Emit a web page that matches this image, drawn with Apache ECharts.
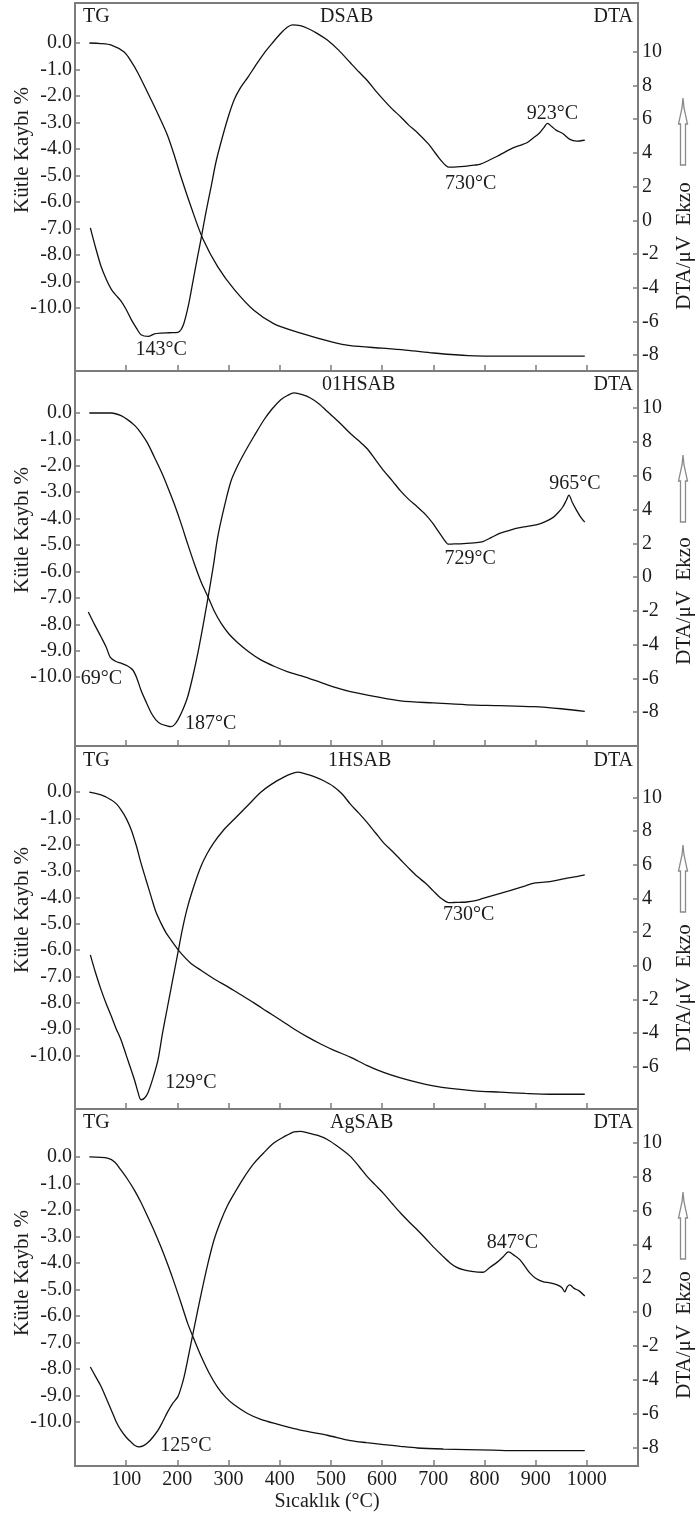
<!DOCTYPE html>
<html>
<head>
<meta charset="utf-8">
<title>TG / DTA</title>
<script src="https://cdn.jsdelivr.net/npm/echarts@6/dist/echarts.min.js"></script>
<style>
  html, body { margin: 0; padding: 0; background: #fff; }
  #chart { width: 697px; height: 1519px; }
</style>
</head>
<body>
<div id="chart"></div>
<script>
// ---- data: temperature (°C) vs. mass loss (%) and DTA signal (µV) ----
const dsabTG = [[28,0.0],[50,-0.02],[71,-0.08],[96,-0.34],[110,-0.7],[123,-1.13],[149,-2.15],[165,-2.8],[181,-3.5],[195,-4.3],[207,-5.05],[227,-6.2],[250,-7.4],[279,-8.45],[311,-9.3],[350,-10.1],[389,-10.6],[441,-10.95],[505,-11.3],[538,-11.42],[600,-11.52],[651,-11.6],[700,-11.7],[768,-11.8],[850,-11.82],[920,-11.82],[996,-11.82]];
const dsabDTA = [[30,-0.45],[40,-1.6],[51,-2.75],[61,-3.5],[71,-4.1],[80,-4.45],[90,-4.8],[100,-5.3],[110,-5.9],[120,-6.4],[129,-6.8],[143,-6.9],[155,-6.75],[168,-6.7],[185,-6.68],[201,-6.65],[207,-6.5],[213,-6.1],[222,-5.0],[230,-3.7],[238,-2.4],[246,-1.15],[256,0.5],[266,2.0],[275,3.4],[285,4.6],[298,6.0],[311,7.15],[324,7.9],[338,8.5],[353,9.2],[369,9.9],[385,10.5],[402,11.1],[414,11.45],[425,11.6],[440,11.55],[454,11.4],[473,11.1],[493,10.7],[515,10.1],[538,9.35],[555,8.8],[571,8.3],[587,7.7],[603,7.15],[620,6.6],[636,6.15],[652,5.65],[669,5.2],[690,4.55],[700,4.15],[710,3.75],[718,3.45],[724,3.27],[730,3.15],[740,3.16],[752,3.18],[765,3.21],[780,3.27],[792,3.33],[808,3.55],[825,3.8],[840,4.05],[856,4.3],[870,4.45],[883,4.6],[896,4.9],[908,5.2],[916,5.5],[923,5.75],[932,5.55],[940,5.35],[953,5.15],[967,4.8],[980,4.7],[996,4.75]];
const dsabPeaks = [143, 730, 923];

const hsab01TG = [[28,0.0],[71,0.0],[90,-0.1],[104,-0.27],[117,-0.48],[129,-0.76],[142,-1.15],[155,-1.67],[168,-2.2],[181,-2.8],[194,-3.45],[207,-4.17],[220,-4.95],[233,-5.7],[246,-6.38],[260,-6.97],[272,-7.5],[285,-7.95],[300,-8.35],[318,-8.7],[340,-9.05],[363,-9.35],[390,-9.6],[416,-9.8],[450,-10.0],[480,-10.2],[510,-10.4],[538,-10.55],[590,-10.75],[636,-10.9],[700,-10.98],[766,-11.05],[830,-11.08],[895,-11.12],[950,-11.2],[996,-11.3]];
const hsab01DTA = [[26,-2.07],[38,-2.8],[51,-3.55],[61,-4.15],[69,-4.75],[80,-5.0],[90,-5.1],[102,-5.25],[113,-5.5],[121,-6.0],[129,-6.7],[139,-7.4],[149,-8.05],[158,-8.45],[168,-8.7],[181,-8.82],[187,-8.85],[194,-8.75],[201,-8.45],[210,-7.9],[220,-7.1],[230,-5.9],[240,-4.5],[250,-2.9],[260,-1.2],[270,0.6],[279,2.4],[292,4.2],[305,5.7],[318,6.6],[330,7.3],[350,8.35],[369,9.3],[385,9.95],[402,10.5],[415,10.75],[428,10.9],[444,10.8],[460,10.6],[477,10.25],[493,9.8],[515,9.2],[538,8.5],[555,8.05],[571,7.6],[587,6.95],[603,6.3],[620,5.7],[636,5.1],[652,4.6],[669,4.15],[685,3.7],[700,3.15],[710,2.7],[718,2.35],[724,2.1],[729,1.95],[740,1.96],[752,1.97],[765,1.99],[780,2.03],[797,2.1],[814,2.35],[831,2.6],[848,2.75],[864,2.9],[884,3.0],[903,3.1],[920,3.3],[935,3.55],[945,3.85],[953,4.15],[960,4.55],[965,4.85],[972,4.4],[980,3.95],[988,3.55],[996,3.25]];
const hsab01Peaks = [69, 187, 729, 965];

const hsab1TG = [[28,0.0],[51,-0.11],[71,-0.3],[81,-0.45],[90,-0.68],[100,-1.0],[110,-1.44],[120,-2.05],[129,-2.7],[139,-3.35],[149,-3.99],[158,-4.55],[168,-4.98],[178,-5.35],[188,-5.63],[198,-5.9],[207,-6.12],[225,-6.48],[246,-6.77],[272,-7.1],[299,-7.4],[324,-7.7],[349,-8.0],[375,-8.33],[402,-8.67],[428,-9.0],[454,-9.3],[480,-9.57],[505,-9.8],[538,-10.07],[570,-10.38],[603,-10.65],[636,-10.86],[669,-11.03],[700,-11.16],[733,-11.26],[780,-11.35],[831,-11.4],[880,-11.45],[928,-11.48],[996,-11.48]];
const hsab1DTA = [[30,0.65],[40,-0.4],[51,-1.43],[61,-2.25],[71,-3.0],[80,-3.7],[90,-4.4],[100,-5.3],[110,-6.2],[117,-6.85],[123,-7.5],[129,-7.95],[136,-7.85],[143,-7.5],[152,-6.7],[162,-5.6],[171,-4.0],[181,-2.4],[191,-0.8],[201,0.77],[210,2.2],[220,3.5],[233,4.8],[246,5.9],[258,6.65],[271,7.3],[290,8.05],[311,8.7],[337,9.5],[363,10.3],[385,10.8],[408,11.2],[422,11.4],[435,11.5],[450,11.4],[466,11.25],[485,11.0],[505,10.65],[522,10.2],[538,9.6],[555,9.05],[571,8.5],[587,7.9],[603,7.3],[620,6.8],[636,6.3],[652,5.8],[669,5.3],[685,4.9],[700,4.45],[710,4.15],[718,3.95],[724,3.83],[730,3.75],[740,3.76],[752,3.77],[765,3.79],[780,3.85],[797,4.0],[814,4.15],[831,4.3],[848,4.45],[864,4.6],[880,4.75],[895,4.9],[912,4.95],[928,5.0],[945,5.1],[961,5.2],[980,5.3],[996,5.4]];
const hsab1Peaks = [129, 730];

const agsabTG = [[28,0.0],[65,-0.05],[78,-0.2],[90,-0.5],[103,-0.85],[116,-1.25],[129,-1.72],[142,-2.25],[155,-2.8],[168,-3.4],[181,-4.05],[194,-4.75],[207,-5.5],[220,-6.27],[233,-6.9],[246,-7.5],[262,-8.15],[279,-8.7],[295,-9.08],[311,-9.35],[337,-9.68],[363,-9.9],[395,-10.08],[428,-10.25],[460,-10.38],[493,-10.5],[538,-10.7],[570,-10.78],[603,-10.85],[636,-10.92],[669,-10.98],[720,-11.02],[766,-11.04],[815,-11.06],[864,-11.08],[930,-11.08],[996,-11.08]];
const agsabDTA = [[30,-3.25],[40,-3.8],[51,-4.4],[61,-5.1],[71,-5.8],[80,-6.45],[90,-7.0],[100,-7.4],[110,-7.7],[118,-7.9],[125,-7.97],[134,-7.9],[143,-7.7],[152,-7.4],[162,-7.0],[171,-6.5],[181,-5.9],[191,-5.4],[201,-5.0],[207,-4.5],[213,-3.85],[223,-2.4],[233,-0.9],[246,1.0],[260,2.9],[272,4.3],[285,5.4],[298,6.3],[311,7.0],[330,7.95],[350,8.8],[370,9.45],[389,10.0],[408,10.35],[428,10.65],[440,10.68],[454,10.6],[473,10.45],[493,10.2],[515,9.75],[538,9.2],[555,8.6],[571,8.0],[587,7.5],[603,7.0],[620,6.4],[636,5.85],[652,5.35],[669,4.85],[685,4.35],[700,3.85],[717,3.35],[733,2.9],[745,2.65],[758,2.5],[775,2.4],[797,2.35],[811,2.65],[825,2.95],[836,3.25],[847,3.55],[858,3.35],[869,3.1],[879,2.7],[889,2.3],[900,2.0],[914,1.8],[928,1.72],[942,1.6],[951,1.45],[957,1.2],[962,1.5],[967,1.6],[975,1.4],[985,1.25],[996,0.95]];
const agsabPeaks = [125, 847];

// ---- tick labels ----
const tempTicks = [100, 200, 300, 400, 500, 600, 700, 800, 900, 1000];
const massTicks = [0, -1, -2, -3, -4, -5, -6, -7, -8, -9, -10];
const dtaTicks = [10, 8, 6, 4, 2, 0, -2, -4, -6, -8];
const dtaTicksShort = [10, 8, 6, 4, 2, 0, -2, -4, -6];

const sampleNames = ['DSAB', '01HSAB', '1HSAB', 'AgSAB'];
const xTitle = 'Sıcaklık (°C)';
const leftTitle = 'Kütle Kaybı %';
const rightTitle = 'DTA/μV  Ekzo';

// ---- panel layout (pixels) ----
const FONT = '"Liberation Serif", "Times New Roman", serif';
const INK = '#1c1c1c';
const FRAME = '#7c7c7c';
const GRID_LEFT = 75, GRID_RIGHT_EDGE = 638;

// call-out offsets are measured from the top-anchored label position
const panels = [
  { tg: dsabTG, dta: dsabDTA, peaks: dsabPeaks, dTicks: dtaTicks,
    top: 3, height: 368, tgRange: [-12.38, 1.51], dtaRange: [-8.95, 12.9],
    showTG: true, titleX: 320, headY: 17, leftNameY: 150, rightNameY: 246, arrowTop: 98,
    offsets: [[13, 24], [22, 27], [5, 1]] },
  { tg: hsab01TG, dta: hsab01DTA, peaks: hsab01Peaks, dTicks: dtaTicks,
    top: 371, height: 375, tgRange: [-12.61, 1.59], dtaRange: [-10.0, 12.2],
    showTG: false, titleX: 322, headY: 385, leftNameY: 530, rightNameY: 601, arrowTop: 455,
    offsets: [[-9, 32], [40, 8], [22, 25], [6, -1]] },
  { tg: hsab1TG, dta: hsab1DTA, peaks: hsab1Peaks, dTicks: dtaTicksShort,
    top: 746, height: 363, tgRange: [-12.04, 1.75], dtaRange: [-8.5, 13.05],
    showTG: true, titleX: 328, headY: 761, leftNameY: 910, rightNameY: 988, arrowTop: 845,
    offsets: [[50, -6], [20, 23]] },
  { tg: agsabTG, dta: agsabDTA, peaks: agsabPeaks, dTicks: dtaTicks,
    top: 1109, height: 357, tgRange: [-11.66, 1.81], dtaRange: [-9.1, 12.0],
    showTG: true, titleX: 330, headY: 1123, leftNameY: 1273, rightNameY: 1335, arrowTop: 1192,
    offsets: [[47, 9], [4, 1]] }
];

function valueAt(series, t) {
  const hit = series.find(p => p[0] === t);
  return hit ? hit[1] : null;
}

const grids = [], xAxes = [], yAxes = [], series = [], graphics = [];

panels.forEach((p, i) => {
  grids.push({
    left: GRID_LEFT, width: GRID_RIGHT_EDGE - GRID_LEFT, top: p.top, height: p.height,
    show: true, borderColor: FRAME, borderWidth: 2, backgroundColor: 'transparent',
    outerBoundsMode: 'none'
  });
  xAxes.push({
    type: 'value', gridIndex: i, min: 0, max: 1100, position: 'bottom',
    axisLine: { show: false, onZero: false }, splitLine: { show: false },
    axisTick: { show: true, inside: true, length: 6, customValues: tempTicks,
                lineStyle: { color: FRAME, width: 1.5 } },
    axisLabel: { show: i === panels.length - 1, customValues: tempTicks, margin: 4,
                 formatter: v => String(v),
                 fontFamily: FONT, fontSize: 20, color: INK }
  });
  yAxes.push({
    type: 'value', gridIndex: i, position: 'left', min: p.tgRange[0], max: p.tgRange[1],
    axisLine: { show: false, onZero: false }, splitLine: { show: false },
    axisTick: { show: true, inside: true, length: 5, customValues: massTicks,
                lineStyle: { color: FRAME, width: 1.5 } },
    axisLabel: { customValues: massTicks, formatter: v => v.toFixed(1), margin: 3,
                 fontFamily: FONT, fontSize: 20, color: INK, padding: [0, 0, 5, 0] }
  });
  yAxes.push({
    type: 'value', gridIndex: i, position: 'right', min: p.dtaRange[0], max: p.dtaRange[1],
    axisLine: { show: false, onZero: false }, splitLine: { show: false },
    axisTick: { show: true, inside: true, length: 5, customValues: p.dTicks,
                lineStyle: { color: FRAME, width: 1.5 } },
    axisLabel: { customValues: p.dTicks, formatter: v => String(v), margin: 4,
                 fontFamily: FONT, fontSize: 20, color: INK, padding: [0, 0, 8, 0] }
  });

  const lineStyle = { color: '#111', width: 1.3 };
  series.push({
    type: 'line', xAxisIndex: i, yAxisIndex: 2 * i, data: p.tg,
    showSymbol: false, smooth: 0.3, lineStyle, silent: true
  });
  series.push({
    type: 'line', xAxisIndex: i, yAxisIndex: 2 * i + 1, data: p.dta,
    showSymbol: false, smooth: 0.3, lineStyle, silent: true
  });
  // temperature call-outs at the marked DTA extrema
  series.push({
    type: 'scatter', xAxisIndex: i, yAxisIndex: 2 * i + 1, silent: true,
    symbol: 'circle', symbolSize: 1, itemStyle: { color: 'rgba(255,255,255,0)' },
    data: p.peaks.map((t, k) => ({
      value: [t, valueAt(p.dta, t)],
      label: { offset: p.offsets[k] }
    })),
    label: {
      show: true, position: 'top', distance: 0, opacity: 1,
      formatter: d => d.value[0] + '°C',
      fontFamily: FONT, fontSize: 20, color: INK, textBorderWidth: 0
    }
  });

  // header texts inside each panel
  const headText = (text, x, align) => ({
    type: 'text', x, y: p.headY, silent: true,
    style: { text, font: '20px ' + FONT, fill: INK,
             align, textAlign: align, verticalAlign: 'middle', textVerticalAlign: 'middle' }
  });
  if (p.showTG) graphics.push(headText('TG', 83, 'left'));
  graphics.push(headText(sampleNames[i], p.titleX, 'left'));
  graphics.push(headText('DTA', 633, 'right'));

  // axis names
  graphics.push({
    type: 'text', x: 22, y: p.leftNameY, rotation: Math.PI / 2, silent: true,
    style: { text: leftTitle, font: '21px ' + FONT, fill: INK,
             align: 'center', textAlign: 'center', verticalAlign: 'middle', textVerticalAlign: 'middle' }
  });
  graphics.push({
    type: 'text', x: 684, y: p.rightNameY, rotation: Math.PI / 2, silent: true,
    style: { text: rightTitle, font: '21px ' + FONT, fill: INK,
             align: 'center', textAlign: 'center', verticalAlign: 'middle', textVerticalAlign: 'middle' }
  });
  // hollow "exo up" arrow
  graphics.push({
    type: 'polygon', x: 683, y: p.arrowTop, silent: true,
    shape: { points: [[0, 0], [1, 10], [4.5, 26], [2.5, 26], [2.5, 67], [-2.5, 67], [-2.5, 26], [-4.5, 26], [-1, 10]] },
    style: { fill: '#fff', stroke: '#8a8a8a', lineWidth: 1.3 }
  });
});

graphics.push({
  type: 'text', x: 327, y: 1502, silent: true,
  style: { text: xTitle, font: '20px ' + FONT, fill: INK,
           align: 'center', textAlign: 'center', verticalAlign: 'middle', textVerticalAlign: 'middle' }
});

const chart = echarts.init(document.getElementById('chart'), null, { renderer: 'canvas' });
chart.setOption({
  animation: false,
  backgroundColor: '#fff',
  grid: grids,
  xAxis: xAxes,
  yAxis: yAxes,
  series: series,
  graphic: { elements: graphics }
});
</script>
</body>
</html>
